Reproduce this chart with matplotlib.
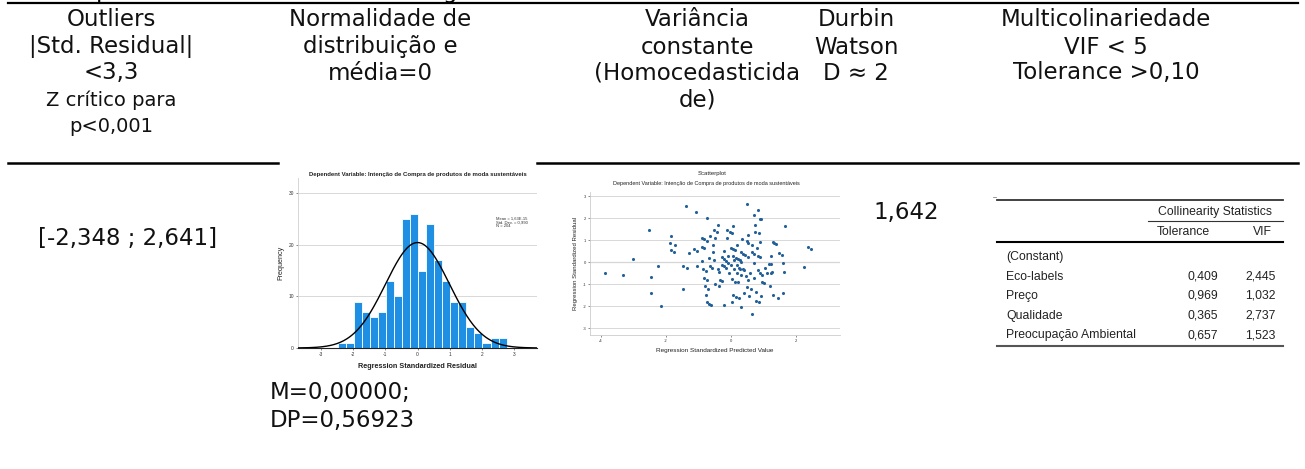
import matplotlib.pyplot as plt
import numpy as np

W, H = 1305, 469

# ---- header cells (one list of lines per column) ----
header_x = [111, 380, 697, 856, 1106]
header_lines = [
    ['Outliers', '|Std. Residual|', '<3,3', 'Z crítico para', 'p<0,001'],
    ['Normalidade de', 'distribuição e', 'média=0'],
    ['Variância', 'constante', '(Homocedasticida', 'de)'],
    ['Durbin', 'Watson', 'D ≈ 2'],
    ['Multicolinariedade', 'VIF < 5', 'Tolerance >0,10'],
]
header_y = [20, 47, 73, 100, 127]

outlier_range = '[-2,348 ; 2,641]'
durbin_value = '1,642'
normal_note = ['M=0,00000;', 'DP=0,56923']

# ---- histogram of standardized residuals (SPSS) ----
hist_start = -2.47
hist_width = 0.249
hist_counts = [1, 1, 9, 7, 6, 7, 13, 10, 25, 26, 15, 24, 17, 13, 9, 9, 4, 3, 1, 2, 2]
hist_mean = 0.0
hist_sd = 0.990
hist_n = 204

# ---- scatterplot of residual vs predicted (SPSS) ----
scatter_x = [-3.89, -3.34, -3.03, -2.51, -2.46, -2.45, -2.26, -2.17, -1.85, -1.87,
             -1.74, -1.84, -1.77, -1.39, -1.47, -1.35, -1.47, -1.31, -1.15, -1.08,
             -1.04, -1.06, -0.90, -0.89, -0.84, -0.88, -0.84, -0.86, -0.78, -0.82,
             -0.73, -0.75, -0.74, -0.80, -0.76, -0.71, -0.75, -0.67, -0.63, -0.67,
             -0.64, -0.64, -0.58, -0.57, -0.56, -0.54, -0.52, -0.49, -0.51, -0.43,
             -0.40, -0.41, -0.37, -0.36, -0.34, -0.29, -0.29, -0.28, -0.23, -0.22,
             -0.21, -0.22, -0.17, -0.15, -0.13, -0.13, -0.09, -0.08, -0.06, -0.03,
             0.00, 0.01, 0.02, 0.03, 0.04, 0.05, 0.05, 0.07, 0.07, 0.09,
             0.10, 0.11, 0.12, 0.14, 0.15, 0.17, 0.17, 0.19, 0.21, 0.22,
             0.24, 0.23, 0.26, 0.28, 0.30, 0.30, 0.32, 0.32, 0.34, 0.36,
             0.38, 0.39, 0.41, 0.44, 0.45, 0.48, 0.49, 0.49, 0.51, 0.52,
             0.52, 0.53, 0.55, 0.58, 0.61, 0.63, 0.64, 0.65, 0.69, 0.69,
             0.72, 0.72, 0.74, 0.75, 0.76, 0.76, 0.80, 0.82, 0.83, 0.84,
             0.85, 0.86, 0.88, 0.89, 0.90, 0.92, 0.89, 0.92, 0.95, 0.96,
             1.02, 1.05, 1.09, 1.17, 1.20, 1.22, 1.22, 1.23, 1.25, 1.29,
             1.33, 1.37, 1.30, 1.43, 1.47, 1.58, 1.60, 1.63, 1.59, 1.66,
             2.23, 2.36, 2.47]
scatter_y = [-0.47, -0.59, 0.17, 1.47, -0.67, -1.38, -0.15, -1.96, 1.22, 0.90,
             0.79, 0.55, 0.47, 2.58, -0.15, -0.24, -1.19, 0.41, 0.62, 2.31,
             0.52, -0.17, 0.06, 1.09, 1.05, 0.71, 0.67, -0.30, -0.41, -0.73,
             -0.82, 2.01, 0.96, -1.08, -1.47, -1.23, -1.81, -1.87, -1.93, 0.18,
             1.20, -0.17, -0.24, 0.47, 0.79, 1.47, 0.11, 1.11, -0.97, 1.38,
             1.72, -0.32, -0.43, -1.08, -0.78, 0.24, -0.85, -0.14, 0.14, -0.17,
             0.50, -1.95, -0.24, 0.05, 1.47, 1.12, -0.02, 0.29, -0.47, 1.40,
             0.67, -0.11, -0.74, -1.81, 1.35, 0.29, -1.46, 1.64, 0.62, 0.11,
             -0.32, -0.87, 0.56, 0.21, -1.57, -0.14, -0.47, 0.78, -0.90, 0.17,
             -0.24, -1.60, 0.11, -0.32, 0.47, -0.55, 0.03, -2.04, 1.08, -0.29,
             0.36, -1.38, -0.35, 0.32, -0.62, 0.96, 2.67, -1.14, 1.26, 0.24,
             -0.81, 0.90, -1.53, -0.50, -1.23, -2.33, 0.79, 0.47, 2.14, -0.02,
             0.40, -0.70, 1.38, 1.72, -1.35, -1.76, 0.67, 0.29, -0.35, 2.37,
             -1.81, 1.32, 1.99, 0.24, -0.47, 1.96, 0.94, -1.53, -0.55, -0.88,
             -0.93, -0.24, -0.47, -0.05, -1.08, 0.29, -0.47, -0.09, -0.44, 0.93,
             0.90, 0.85, -1.50, -1.61, 0.44, 0.32, -0.03, -0.43, -1.41, 1.66,
             -0.23, 0.68, 0.59]

# ---- collinearity statistics table ----
coll_rows = ['(Constant)', 'Eco-labels', 'Preço', 'Qualidade', 'Preocupação Ambiental']
coll_tolerance = ['', '0,409', '0,969', '0,365', '0,657']
coll_vif = ['', '2,445', '1,032', '2,737', '1,523']

main_font = 'DejaVu Sans'
spss_font = 'Liberation Sans'
bar_blue = '#1e8fe3'
dot_blue = '#22609a'

plt.rcParams['font.family'] = spss_font
plt.rcParams['axes.unicode_minus'] = False

fig = plt.figure(figsize=(W / 100, H / 100), dpi=100)

# base axes in pixel coordinates for the surrounding table
base = fig.add_axes([0, 0, 1, 1])
base.set_xlim(0, W)
base.set_ylim(H, 0)
base.axis('off')


def px_axes(x0, y0, x1, y1):
    return fig.add_axes([x0 / W, 1 - y1 / H, (x1 - x0) / W, (y1 - y0) / H])


# cut-off descenders of the line of text above the table
for cx, ch in [(103, 'p'), (450, 'g')]:
    base.text(cx, -2, ch, fontsize=16.5, family=main_font, ha='center', va='baseline')

# table rules
base.plot([8, 1298], [3, 3], color='black', lw=1.6)
base.plot([8, 278], [163, 163], color='black', lw=1.8)
base.plot([537, 1298], [163, 163], color='black', lw=1.8)

# header text
for cx, lines in zip(header_x, header_lines):
    for i, line in enumerate(lines):
        size = 16.5
        if cx == header_x[0] and i >= 3:
            size = 14
        base.text(cx, header_y[i], line, fontsize=size, family=main_font,
                  ha='center', va='center', color='#111111')

base.text(128, 238, outlier_range, fontsize=16.5, family=main_font,
          ha='center', va='center', color='#111111')
base.text(906, 213, durbin_value, fontsize=16.5, family=main_font,
          ha='center', va='center', color='#111111')
for i, line in enumerate(normal_note):
    base.text(270, 392 + 28 * i, line, fontsize=16.5, family=main_font,
              ha='left', va='center', color='#111111')

# ---- histogram ----
axh = px_axes(298, 178, 537, 348)
edges = hist_start + hist_width * np.arange(len(hist_counts))
axh.bar(edges, hist_counts, width=hist_width, align='edge', color=bar_blue,
        edgecolor='white', linewidth=0.6, zorder=2)
xs = np.linspace(-3.7, 3.7, 300)
curve = hist_n * hist_width * np.exp(-0.5 * ((xs - hist_mean) / hist_sd) ** 2) / (hist_sd * np.sqrt(2 * np.pi))
axh.plot(xs, curve, color='black', lw=1.0, zorder=3)
axh.set_xlim(-3.7, 3.7)
axh.set_ylim(0, 33)
axh.set_xticks([-3, -2, -1, 0, 1, 2, 3])
axh.set_yticks([0, 10, 20, 30])
axh.yaxis.grid(True, color='#d8d8d8', lw=0.7, zorder=0)
axh.set_axisbelow(True)
for s in ['top', 'right']:
    axh.spines[s].set_visible(False)
axh.spines['left'].set_color('#d0d0d0')
axh.spines['left'].set_linewidth(0.6)
axh.spines['bottom'].set_color('#222222')
axh.spines['bottom'].set_linewidth(0.8)
axh.tick_params(labelsize=3.5, length=1.5, width=0.4, pad=1.5, colors='#333333')
axh.set_xlabel('Regression Standardized Residual', fontsize=5.2, family=spss_font,
               fontweight='bold', labelpad=4, color='#222222')
axh.set_ylabel('Frequency', fontsize=5.2, family=spss_font, labelpad=3, color='#222222')
axh.set_title('Dependent Variable: Intenção de Compra de produtos de moda sustentáveis',
              fontsize=4.3, family=spss_font, fontweight='bold', pad=1.5, color='#222222')
axh.text(2.42, 25.6, 'Mean = 1,63E-15\nStd. Dev. = 0,990\nN = 204', fontsize=3.0,
         family=spss_font, ha='left', va='top', linespacing=1.0, color='#333333')

# ---- scatterplot ----
axs = px_axes(590, 192, 840, 335)
axs.scatter(scatter_x, scatter_y, s=5, color=dot_blue, linewidths=0, zorder=3)
axs.set_xlim(-4.34, 3.35)
axs.set_ylim(-3.3, 3.2)
axs.set_xticks([-4, -2, 0, 2])
axs.set_yticks([-3, -2, -1, 0, 1, 2, 3])
axs.yaxis.grid(True, color='#d8d8d8', lw=0.7, zorder=0)
axs.axhline(0, color='#9a9a9a', lw=0.8, zorder=1)
for s in ['top', 'right']:
    axs.spines[s].set_visible(False)
for s in ['left', 'bottom']:
    axs.spines[s].set_color('#cccccc')
    axs.spines[s].set_linewidth(0.6)
axs.tick_params(labelsize=3.0, length=1.2, width=0.4, pad=1.5, colors='#333333')
axs.set_xlabel('Regression Standardized Predicted Value', fontsize=4.6, family=spss_font,
               labelpad=4, color='#222222')
axs.set_ylabel('Regression Standardized Residual', fontsize=4.3, family=spss_font,
               labelpad=3, color='#222222')
base.text(712, 173, 'Scatterplot', fontsize=4.3, family=spss_font, ha='center',
          va='center', color='#222222')
base.text(706, 184, 'Dependent Variable: Intenção de Compra de produtos de moda sustentáveis',
          fontsize=4.0, family=spss_font, ha='center', va='center', color='#222222')

# ---- collinearity table ----
tx0, tx1 = 997, 1283
base.plot([993, 996], [197, 197], color='#888888', lw=0.6)
base.plot([tx0, tx1], [200, 200], color='#333333', lw=1.3)
base.plot([1148, tx1], [221, 221], color='#333333', lw=0.8)
base.plot([tx0, tx1], [242, 242], color='black', lw=1.5)
base.plot([tx0, tx1], [346, 346], color='#555555', lw=1.5)
tfs = 8.8
base.text(1215, 212, 'Collinearity Statistics', fontsize=tfs, family=spss_font,
          ha='center', va='center', color='#222222')
base.text(1183, 232, 'Tolerance', fontsize=tfs, family=spss_font, ha='center',
          va='center', color='#222222')
base.text(1262, 232, 'VIF', fontsize=tfs, family=spss_font, ha='center',
          va='center', color='#222222')
for i, (name, tol, vif) in enumerate(zip(coll_rows, coll_tolerance, coll_vif)):
    y = 257 + 19.5 * i
    base.text(1006, y, name, fontsize=tfs, family=spss_font, ha='left', va='center', color='#222222')
    base.text(1218, y, tol, fontsize=tfs, family=spss_font, ha='right', va='center', color='#222222')
    base.text(1276, y, vif, fontsize=tfs, family=spss_font, ha='right', va='center', color='#222222')

fig.savefig('out.png', dpi=100)
